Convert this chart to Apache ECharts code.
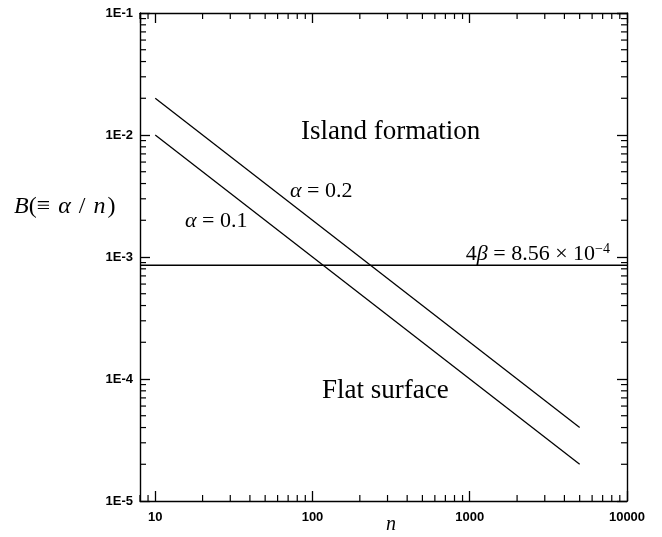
<!DOCTYPE html>
<html><head><meta charset="utf-8">
<script src="https://cdn.jsdelivr.net/npm/echarts@6/dist/echarts.min.js"></script>
<style>html,body{margin:0;padding:0;background:#fff}#c{width:662px;height:537px}</style>
</head><body><div id="c"></div>
<script>
// ---- data ----
const nRange = [10, 5000];
const bAlpha01 = [0.01, 0.00002];
const bAlpha02 = [0.02, 0.00004];
const fourBeta = 8.56e-4;
const xExtent = [8, 10000];
const yExtent = [1e-5, 1e-1];
const xTickLabels = ['10', '100', '1000', '10000'];
const yTickLabels = ['1E-5', '1E-4', '1E-3', '1E-2', '1E-1'];

// minor tick values (axis decoration)
const xMinor = [];
for (let d = 0; d <= 3; d++) for (let k = 2; k <= 9; k++) { const v = k * Math.pow(10, d); if (v >= xExtent[0] && v < xExtent[1]) xMinor.push(v); }
const yMinor = [];
for (let d = -5; d <= -2; d++) for (let k = 2; k <= 9; k++) yMinor.push(k * Math.pow(10, d));

const tickData = [];
xMinor.forEach(v => { tickData.push([v, yExtent[0], 0]); tickData.push([v, yExtent[1], 1]); });
yMinor.forEach(v => { tickData.push([xExtent[0], v, 2]); tickData.push([xExtent[1], v, 3]); });

const serif = '"Liberation Serif","Times New Roman",serif';
const sans = '"Liberation Sans",Arial,Helvetica,sans-serif';
const MINOR = 6, MAJOR = 10;

const chart = echarts.init(document.getElementById('c'), null, { renderer: 'canvas' });
const lineStyle = { color: '#000', width: 1.3 };
const axCommon = {
  type: 'log', logBase: 10,
  axisLine: { show: true, lineStyle: { color: '#000', width: 1.4 } },
  axisTick: { show: true, inside: true, length: MAJOR, lineStyle: { color: '#000', width: 1.3 } },
  splitLine: { show: false }, minorTick: { show: false }
};
const rich = {
  i: { fontFamily: serif, fontStyle: 'italic', fontSize: 22, fill: '#000' },
  a: { fontFamily: serif, fontSize: 22, fill: '#000' },
  s: { fontFamily: serif, fontSize: 14, fill: '#000', verticalAlign: 'top', padding: [0, 0, 10, 0] }
};
chart.setOption({
  animation: false,
  backgroundColor: '#fff',
  grid: { left: 140, right: 35, top: 13, bottom: 36 },
  xAxis: [
    Object.assign({}, axCommon, { position: 'bottom', min: xExtent[0], max: xExtent[1],
      axisLabel: { show: true, showMinLabel: false, margin: 10, color: '#000', fontFamily: sans, fontSize: 13, fontWeight: 'bold',
        formatter: v => v < 9.5 ? '' : (xTickLabels[Math.round(Math.log10(v)) - 1] || '') } }),
    Object.assign({}, axCommon, { position: 'top', min: xExtent[0], max: xExtent[1], axisLabel: { show: false } })
  ],
  yAxis: [
    Object.assign({}, axCommon, { position: 'left', min: yExtent[0], max: yExtent[1],
      axisLabel: { show: true, margin: 7, color: '#000', fontFamily: sans, fontSize: 13, fontWeight: 'bold',
        formatter: v => yTickLabels[Math.round(Math.log10(v)) + 5] || '' } }),
    Object.assign({}, axCommon, { position: 'right', min: yExtent[0], max: yExtent[1], axisLabel: { show: false } })
  ],
  series: [
    { type: 'line', name: 'alpha=0.1', data: nRange.map((n, i) => [n, bAlpha01[i]]), symbol: 'none', lineStyle },
    { type: 'line', name: 'alpha=0.2', data: nRange.map((n, i) => [n, bAlpha02[i]]), symbol: 'none', lineStyle },
    { type: 'line', name: '4beta', data: xExtent.map(n => [n, fourBeta]), symbol: 'none', lineStyle },
    { type: 'custom', name: 'minorTicks', data: tickData, clip: false, silent: true,
      renderItem: (params, api) => {
        const p = api.coord([api.value(0), api.value(1)]);
        const s = api.value(2);
        let x2 = p[0], y2 = p[1];
        if (s === 0) y2 -= MINOR; else if (s === 1) y2 += MINOR; else if (s === 2) x2 += MINOR; else x2 -= MINOR;
        return { type: 'line', shape: { x1: p[0], y1: p[1], x2, y2 }, style: { stroke: '#000', lineWidth: 1.2 } };
      } }
  ],
  graphic: [
    { type: 'text', left: 14, top: 195, style: { rich: {
        i: { fontFamily: serif, fontStyle: 'italic', fontSize: 24, fill: '#000' },
        p: { fontFamily: serif, fontStyle: 'italic', fontSize: 24, fill: '#000', padding: [0, 2] },
        a: { fontFamily: serif, fontSize: 24, fill: '#000' } },
        text: '{i|B}{a|(≡ }{p|α}{a| / }{p|n}{a|)}' } },
    { type: 'text', left: 386, top: 515, style: { text: 'n', font: 'italic 20px ' + serif, fill: '#000' } },
    { type: 'text', left: 301, top: 118, style: { text: 'Island formation', font: '27px ' + serif, fill: '#000' } },
    { type: 'text', left: 322, top: 377, style: { text: 'Flat surface', font: '27px ' + serif, fill: '#000' } },
    { type: 'text', left: 290, top: 180, style: { rich, text: '{i|α}{a| = 0.2}' } },
    { type: 'text', left: 185, top: 210, style: { rich, text: '{i|α}{a| = 0.1}' } },
    { type: 'text', right: 52, top: 242, style: { rich, text: '{a|4}{i|β}{a| = 8.56 × 10}{s|−4}' } }
  ]
});
</script></body></html>
